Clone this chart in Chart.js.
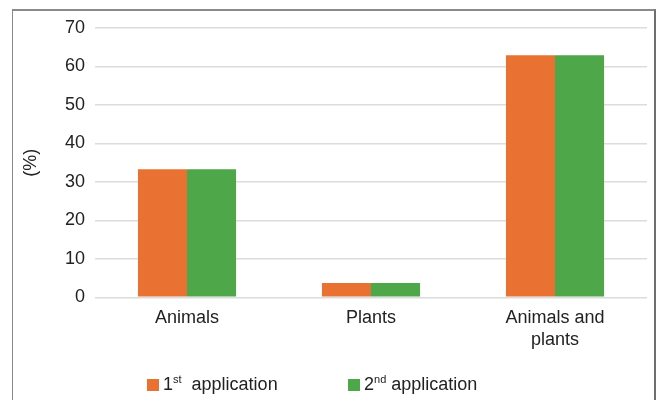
<!DOCTYPE html>
<html>
<head>
<meta charset="utf-8">
<script src="https://cdn.jsdelivr.net/npm/chart.js@4"></script>
<style>
  html, body { margin: 0; padding: 0; background: #fff; }
  body { width: 659px; height: 400px; position: relative; overflow: hidden;
         font-family: "Liberation Sans", Arial, sans-serif; }
  #frame { position: absolute; left: 12px; top: 9px; width: 644px; height: 420px;
           border-left: 1px solid #8a8a8a; border-top: 2px solid #8a8a8a; border-right: 2px solid #6e6e6e; box-sizing: border-box; }
  #wrap { position: absolute; left: 0; top: 0; width: 659px; height: 400px; }
  #legend { position: absolute; left: 0; top: 0; width: 659px; height: 400px; pointer-events: none; }
  .item { position: absolute; top: 374px; display: flex; align-items: center; font-size: 18px; color: #222; white-space: pre; }
  .box { width: 12px; height: 12px; margin-right: 4px; }
  .item sup { font-size: 11px; vertical-align: 7px; line-height: 0; }
</style>
</head>
<body>
<div id="frame"></div>
<div id="wrap"><canvas id="c" width="659" height="400"></canvas></div>
<div id="legend"></div>
<script>
// Share of respondents (%) by category, for each application round
const categories = ['Animals', 'Plants', ['Animals and', 'plants']];
const firstApplication = [33.3, 3.7, 62.9];
const secondApplication = [33.3, 3.7, 62.9];
const seriesOrdinals = ['1', '2'];
const seriesSuffixes = ['st', 'nd'];
const seriesGaps = ['  ', ' '];
const yTicks = [0, 10, 20, 30, 40, 50, 60, 70];
const yAxisTitle = '(%)';

const colors = ['#E97132', '#4EA748'];
const values = [firstApplication, secondApplication];

const datasets = values.map((v, i) => ({
  label: seriesOrdinals[i] + seriesSuffixes[i] + ' application',
  data: v,
  backgroundColor: colors[i],
  borderWidth: 0,
  categoryPercentage: 0.533,
  barPercentage: 1.0
}));

const font = { family: '"Liberation Sans", Arial, sans-serif', size: 18 };

const chart = new Chart(document.getElementById('c'), {
  type: 'bar',
  data: { labels: categories, datasets },
  options: {
    responsive: false,
    animation: false,
    layout: { padding: { left: 20, right: 12, top: 28, bottom: 0 } },
    plugins: { legend: { display: false }, tooltip: { enabled: false } },
    scales: {
      x: {
        grid: { display: false, drawTicks: false },
        border: { display: false },
        ticks: { color: '#222', font: { ...font, lineHeight: 1.25 }, padding: 9, maxRotation: 0, autoSkip: false },
        afterFit: s => { s.height = 102.7; }
      },
      y: {
        min: 0, max: 70,
        afterBuildTicks: s => { s.ticks = yTicks.map(v => ({ value: v })); },
        grid: { color: '#dcdcdc', lineWidth: 1.5, drawTicks: false },
        border: { display: false },
        ticks: { color: '#222', font, padding: 10 },
        title: { display: true, text: yAxisTitle, color: '#222', font, padding: { top: 0, bottom: 14 } },
        afterFit: s => { s.width = 75; }
      }
    }
  }
});

// Legend with superscript ordinals, built from the datasets
const legendLefts = [147, 348];
const legend = document.getElementById('legend');
chart.data.datasets.forEach((ds, i) => {
  const item = document.createElement('div');
  item.className = 'item';
  item.style.left = legendLefts[i] + 'px';
  const box = document.createElement('span');
  box.className = 'box';
  box.style.background = ds.backgroundColor;
  const txt = document.createElement('span');
  txt.innerHTML = seriesOrdinals[i] + '<sup>' + seriesSuffixes[i] + '</sup>' + seriesGaps[i] + 'application';
  item.appendChild(box);
  item.appendChild(txt);
  legend.appendChild(item);
});
</script>
</body>
</html>
